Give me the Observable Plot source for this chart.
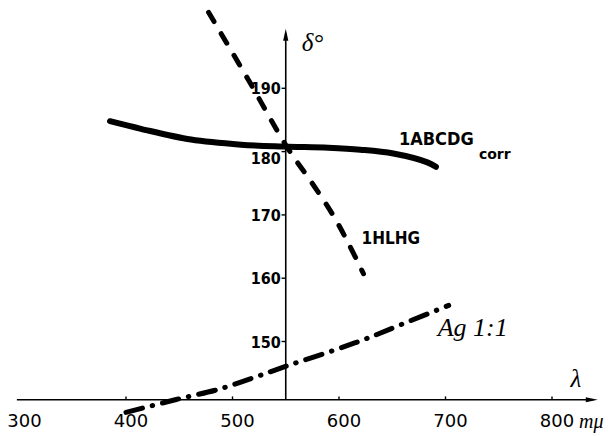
<!DOCTYPE html>
<html>
<head>
<meta charset="utf-8">
<script src="https://cdn.jsdelivr.net/npm/d3@7"></script>
<script src="https://cdn.jsdelivr.net/npm/@observablehq/plot@0.6"></script>
<style>
  html, body { margin: 0; padding: 0; background: #fff; }
  #chart svg { display: block; }
</style>
</head>
<body>
<div id="chart"></div>
<script>
// ---- data ----
const xTicks = [300, 400, 500, 600, 700, 800];
const yTicks = [150, 160, 170, 180, 190];
const xUnit = "mμ";
const xName = "λ";
const yName = "δ°";

// 1ABCDG corr (solid)
const abcdgLambda = [385, 414, 461, 508, 548, 590, 620, 651, 683, 691];
const abcdgDelta  = [184.8, 183.6, 181.9, 181.1, 180.8, 180.6, 180.3, 179.7, 178.3, 177.6];

// 1HLHG (dashed)
const hlhgLambda = [477.5, 515, 551.6, 573.2, 593.9, 608.9, 623];
const hlhgDelta  = [202.0, 191.3, 180.6, 175.4, 170.1, 165.5, 160.7];

// Ag 1:1 (dash-dot)
const agLambda = [400, 437, 456, 486, 520, 552, 595, 628, 663, 703];
const agDelta  = [138.8, 140.4, 141.2, 142.4, 144.3, 146.2, 148.6, 150.6, 153.0, 155.7];

// axis frame values
const axisLambda = 550;     // vertical axis position
const axisDelta = 140.8;    // horizontal axis position
const xAxisStart = 298;
const xAxisEnd = 843;
const yAxisEnd = 199.4;

// ---- build tables ----
const abcdg = abcdgLambda.map((l, i) => ({l, d: abcdgDelta[i]}));
const hlhg = hlhgLambda.map((l, i) => ({l, d: hlhgDelta[i]}));
const ag = agLambda.map((l, i) => ({l, d: agDelta[i]}));

const arrowHead = {
  draw(context, size) {
    const r = Math.sqrt(size / Math.PI);
    const L = 12 * r, w = 2.6 * r;
    context.moveTo(0, 0);
    context.lineTo(-w, L);
    context.lineTo(w, L);
    context.closePath();
  }
};

const labelFont = "DejaVu Sans Condensed, DejaVu Sans, sans-serif";
const scriptFont = "Liberation Serif, DejaVu Serif, serif";

const chart = Plot.plot({
  width: 614,
  height: 436,
  marginLeft: 19,
  marginRight: 62.5,
  marginTop: 24.5,
  marginBottom: 31.7,
  x: {domain: [300, 800], axis: null},
  y: {domain: [140, 200], axis: null},
  style: {background: "white", color: "black"},
  marks: [
    // axes
    Plot.ruleY([axisDelta], {x1: xAxisStart, x2: xAxisEnd - 4, stroke: "black", strokeWidth: 1.6}),
    Plot.ruleX([axisLambda], {y1: axisDelta, y2: yAxisEnd - 0.8, stroke: "black", strokeWidth: 1.6}),
    Plot.dot([{x: xAxisEnd, y: axisDelta}], {x: "x", y: "y", symbol: arrowHead, r: 1, fill: "black", stroke: "none", rotate: 90}),
    Plot.dot([{x: axisLambda, y: yAxisEnd}], {x: "x", y: "y", symbol: arrowHead, r: 1, fill: "black", stroke: "none"}),
    // ticks
    Plot.ruleX(xTicks.filter(t => t > 300), {x: d => d, y1: axisDelta, y2: axisDelta + 0.45, stroke: "black", strokeWidth: 1.4}),
    Plot.ruleY(yTicks, {y: d => d, x1: axisLambda - 3.5, x2: axisLambda, stroke: "black", strokeWidth: 1.4}),
    // tick labels
    Plot.text(xTicks, {x: d => d, y: axisDelta, text: d => String(d), dx: 5, dy: 21, fontSize: 18, fontFamily: "DejaVu Sans, sans-serif", fill: "black"}),
    Plot.text([xUnit], {x: 800, y: axisDelta, text: d => d, dx: 27, dy: 22, textAnchor: "start", fontSize: 20, fontStyle: "italic", fontFamily: scriptFont, fill: "black"}),
    Plot.text(yTicks.filter(t => t !== 180), {x: axisLambda, y: d => d, text: d => String(d), dx: -5, dy: 1, textAnchor: "end", fontSize: 16, fontWeight: "bold", fontFamily: labelFont, fill: "black"}),
    Plot.text(yTicks.filter(t => t === 180), {x: axisLambda, y: d => d, text: d => String(d), dx: -5, dy: 7, textAnchor: "end", fontSize: 16, fontWeight: "bold", fontFamily: labelFont, fill: "black"}),
    // axis names
    Plot.text([yName], {x: axisLambda, y: yAxisEnd, text: d => d, dx: 16, dy: 14, textAnchor: "start", fontSize: 25, fontStyle: "italic", fontFamily: scriptFont, fill: "black"}),
    Plot.text([xName], {x: xAxisEnd, y: axisDelta, text: d => d, dx: -22, dy: -21, textAnchor: "middle", fontSize: 25, fontStyle: "italic", fontFamily: scriptFont, fill: "black"}),
    // curves
    Plot.line(abcdg, {x: "l", y: "d", stroke: "black", strokeWidth: 6, curve: "catmull-rom", strokeLinecap: "round"}),
    Plot.line(hlhg, {x: "l", y: "d", stroke: "black", strokeWidth: 5, curve: "catmull-rom", strokeLinecap: "round", strokeDasharray: "11,14"}),
    Plot.line(ag, {x: "l", y: "d", stroke: "black", strokeWidth: 5, curve: "catmull-rom", strokeLinecap: "round", strokeDasharray: "17,10,0.5,10"}),
    // curve labels
    Plot.text([abcdg[abcdg.length - 1]], {x: "l", y: "d", text: () => "1ABCDG", dx: -37, dy: -28, textAnchor: "start", fontSize: 18, fontWeight: "bold", fontFamily: labelFont, fill: "black"}),
    Plot.text([abcdg[abcdg.length - 1]], {x: "l", y: "d", text: () => "corr", dx: 43, dy: -12, textAnchor: "start", fontSize: 14, fontWeight: "bold", fontFamily: "DejaVu Sans, sans-serif", fill: "black"}),
    Plot.text([hlhg[hlhg.length - 1]], {x: "l", y: "d", text: () => "1HLHG", dx: -2, dy: -35, textAnchor: "start", fontSize: 17, fontWeight: "bold", fontFamily: labelFont, fill: "black"}),
    Plot.text([ag[ag.length - 1]], {x: "l", y: "d", text: () => "Ag 1:1", dx: -11, dy: 22, textAnchor: "start", fontSize: 26, fontStyle: "italic", fontFamily: scriptFont, fill: "black"})
  ]
});

document.getElementById("chart").appendChild(chart);
</script>
</body>
</html>
